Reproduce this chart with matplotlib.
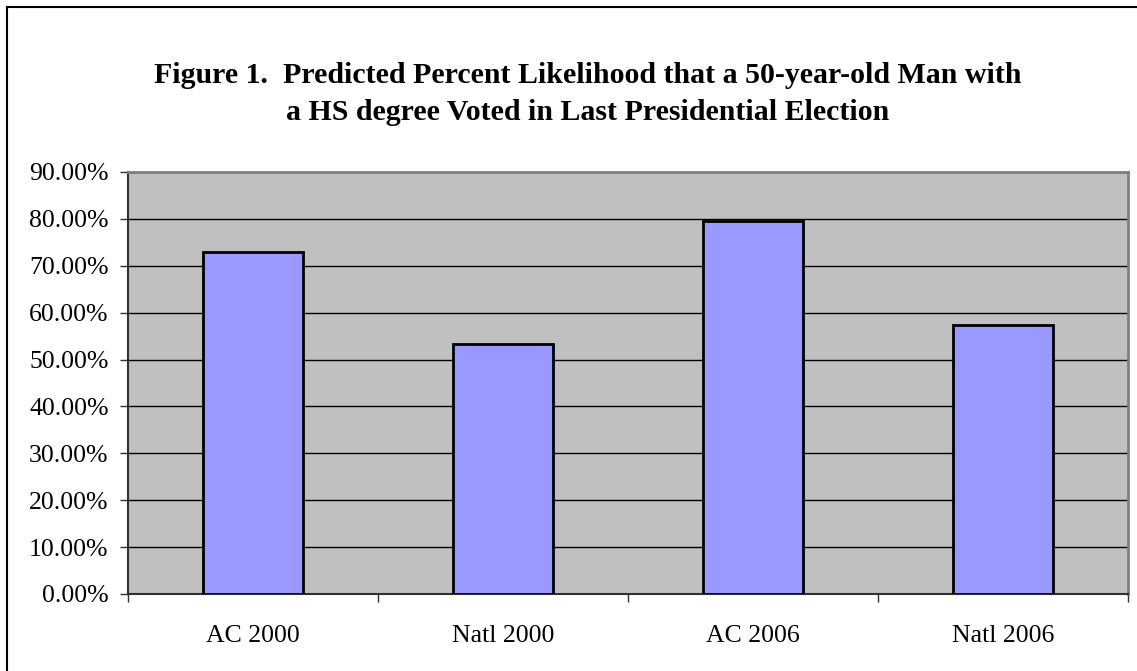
import matplotlib
matplotlib.use("Agg")
import matplotlib.pyplot as plt
from matplotlib.ticker import FixedLocator, PercentFormatter

categories = ["AC 2000", "Natl 2000", "AC 2006", "Natl 2006"]
values = [73.0, 53.3, 79.5, 57.4]
yticks = [0, 10, 20, 30, 40, 50, 60, 70, 80, 90]

title = ("Figure 1.  Predicted Percent Likelihood that a 50-year-old Man with\n"
         "a HS degree Voted in Last Presidential Election")

serif = ["Liberation Serif", "DejaVu Serif"]

fig = plt.figure(figsize=(11.37, 6.71), dpi=100)
fig.patch.set_facecolor("white")

# figure frame (top and left edges)
fig.add_artist(plt.Line2D([7/1137, 7/1137], [0, 1 - 7/671], color="black", lw=1.5,
                          transform=fig.transFigure))
fig.add_artist(plt.Line2D([7/1137, 1], [1 - 7/671, 1 - 7/671], color="black", lw=1.5,
                          transform=fig.transFigure))

ax = fig.add_axes([128/1137, 1 - 594/671, 1000/1137, 422/671])
ax.set_facecolor("#C0C0C0")

x = list(range(len(categories)))
ax.bar(x, values, width=0.4, color="#9999FF", edgecolor="black", linewidth=2, zorder=3)

ax.set_xlim(-0.5, len(categories) - 0.5)
ax.set_ylim(0, 90)
ax.set_yticks(yticks)
ax.yaxis.set_major_formatter(PercentFormatter(decimals=2))
ax.grid(axis="y", color="black", linewidth=1, zorder=1)
ax.set_axisbelow(True)

ax.set_xticks(x)
ax.set_xticklabels(categories, fontfamily=serif, fontsize=18.5)
ax.xaxis.set_minor_locator(FixedLocator([i - 0.5 for i in range(len(categories) + 1)]))
ax.tick_params(axis="x", which="major", length=0, pad=22)
ax.tick_params(axis="x", which="minor", length=6, width=1, direction="out", color="#303030")
ax.tick_params(axis="y", length=6, width=1, direction="out", color="#303030", pad=8)
for lab in ax.get_yticklabels():
    lab.set_fontfamily(serif)
    lab.set_fontsize(18.5)

for s in ["top", "right"]:
    ax.spines[s].set_color("#808080")
    ax.spines[s].set_linewidth(2)
for s in ["left", "bottom"]:
    ax.spines[s].set_color("#303030")
    ax.spines[s].set_linewidth(1.5)

fig.text(588/1137, 1 - 94/671, title, ha="center", va="center", fontfamily=serif,
         fontweight="bold", fontsize=21.5, linespacing=1.45)

fig.savefig("out.png", dpi=100)
